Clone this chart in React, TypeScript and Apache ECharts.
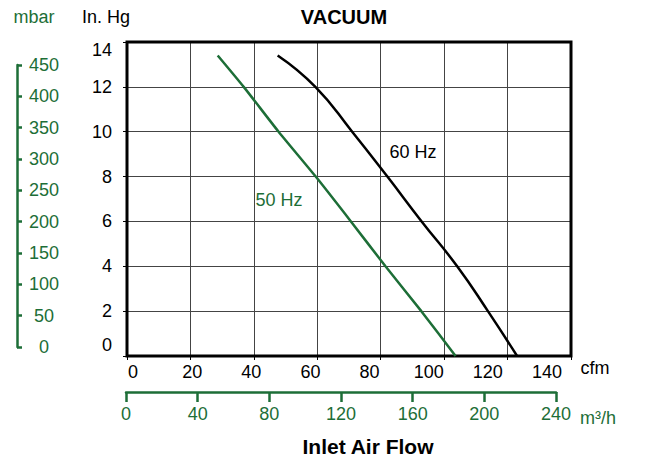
import React, { useEffect, useRef } from "react";
import * as echarts from "echarts";

const hgTicks = [0, 14, 2];
const mbarTicks = [0, 450, 50];
const cfmTicks = [0, 140, 20];
const m3hTicks = [0, 240, 40];

const cfm60 = [47.5, 59.4, 71, 82.1, 92.9, 104.1, 113.8, 123];
const hg60 = [13.4, 12, 10, 8, 6, 4, 2, 0];
const cfm50 = [28.6, 36.8, 47.8, 59.5, 70.6, 81.5, 92.8, 103.6];
const hg50 = [13.4, 12, 10, 8, 6, 4, 2, 0];

const GREEN = "#1d6e37";
const FONT = "'Liberation Sans', Arial, sans-serif";

export default function App() {
  const ref = useRef<HTMLDivElement>(null);
  useEffect(() => {
    document.body.style.margin = "0";
    const chart = echarts.init(ref.current!, null, { renderer: "svg" });
    const txt = (t: string, x: number, y: number, size: number, color = "#000", bold = false, align = "center") => ({
      type: "text",
      x,
      y,
      style: {
        text: t,
        fill: color,
        font: `${bold ? "bold " : ""}${size}px ${FONT}`,
        align,
        verticalAlign: "middle",
      },
      z: 10,
    });
    chart.setOption({
      animation: false,
      textStyle: { fontFamily: FONT },
      grid: [
        { left: 127, top: 42, width: 444, height: 314, show: true, borderColor: "#000", borderWidth: 3, backgroundColor: "transparent", z: 5 },
        { left: 17, top: 65, width: 10, height: 282 },
        { left: 126, top: 391, width: 430, height: 1 },
        { left: 133, top: 42, width: 414, height: 314 },
      ],
      xAxis: [
        {
          gridIndex: 0, type: "value", min: cfmTicks[0], max: cfmTicks[1], interval: cfmTicks[2],
          axisLine: { show: false },
          axisTick: { show: true, length: 4, lineStyle: { color: "#000" } },
          splitLine: { show: true, lineStyle: { color: "#444", width: 1 } },
          axisLabel: { show: false },
        },
        { gridIndex: 1, type: "value", show: false },
        {
          gridIndex: 2, type: "value", min: m3hTicks[0], max: m3hTicks[1], interval: m3hTicks[2], position: "bottom",
          axisLine: { show: true, lineStyle: { color: GREEN, width: 2.5 } },
          axisTick: { show: true, length: 10, lineStyle: { color: GREEN, width: 2.5 } },
          splitLine: { show: false },
          axisLabel: { color: GREEN, fontSize: 18, margin: 13, fontFamily: FONT },
        },
        {
          gridIndex: 3, type: "value", min: cfmTicks[0], max: cfmTicks[1], interval: cfmTicks[2],
          axisLine: { show: false },
          axisTick: { show: false },
          splitLine: { show: false },
          axisLabel: { color: "#000", fontSize: 18, margin: 7, fontFamily: FONT },
        },
      ],
      yAxis: [
        {
          gridIndex: 0, type: "value", min: hgTicks[0], max: hgTicks[1], interval: hgTicks[2],
          axisLine: { show: false },
          axisTick: { show: true, length: 4, lineStyle: { color: "#000" } },
          splitLine: { show: true, lineStyle: { color: "#444", width: 1 } },
          axisLabel: {
            color: "#000", fontSize: 18, margin: 15, fontFamily: FONT,
            formatter: (v: number) => (v === hgTicks[0] ? `{lo|${v}}` : v === hgTicks[1] ? `{hi|${v}}` : String(v)),
            rich: {
              lo: { fontSize: 18, color: "#000", fontFamily: FONT, padding: [0, 0, 22, 0] },
              hi: { fontSize: 18, color: "#000", fontFamily: FONT, padding: [16, 0, 0, 0] },
            },
          },
        },
        {
          gridIndex: 1, type: "value", min: mbarTicks[0], max: mbarTicks[1], interval: mbarTicks[2], position: "left",
          axisLine: { show: true, lineStyle: { color: GREEN, width: 2.5 } },
          axisTick: { show: true, inside: true, length: 5, lineStyle: { color: GREEN, width: 2.5 } },
          splitLine: { show: false },
          axisLabel: { inside: true, align: "center", color: GREEN, fontSize: 18, margin: 27, fontFamily: FONT },
        },
        { gridIndex: 2, type: "value", show: false },
        { gridIndex: 3, type: "value", show: false },
      ],
      series: [
        {
          type: "line", xAxisIndex: 0, yAxisIndex: 0, smooth: 0.5, symbol: "none",
          data: cfm60.map((c, i) => [c, hg60[i]]),
          lineStyle: { color: "#000", width: 2.5 }, z: 6,
        },
        {
          type: "line", xAxisIndex: 0, yAxisIndex: 0, smooth: 0.2, symbol: "none",
          data: cfm50.map((c, i) => [c, hg50[i]]),
          lineStyle: { color: GREEN, width: 2.5 }, z: 6,
        },
      ],
      graphic: [
        txt("VACUUM", 344, 17, 20, "#000", true),
        txt("mbar", 34, 17, 18, GREEN),
        txt("In. Hg", 106, 17, 18, "#000"),
        txt("cfm", 595, 368, 18, "#000"),
        txt("m³/h", 598, 418, 18, GREEN),
        txt("Inlet Air Flow", 368, 446, 21, "#000", true),
        txt("60 Hz", 413, 152, 18, "#000"),
        txt("50 Hz", 279, 200, 18, GREEN),
      ],
    });
    return () => chart.dispose();
  }, []);
  return <div ref={ref} style={{ position: "absolute", left: 0, top: 0, width: 647, height: 456 }} />;
}
